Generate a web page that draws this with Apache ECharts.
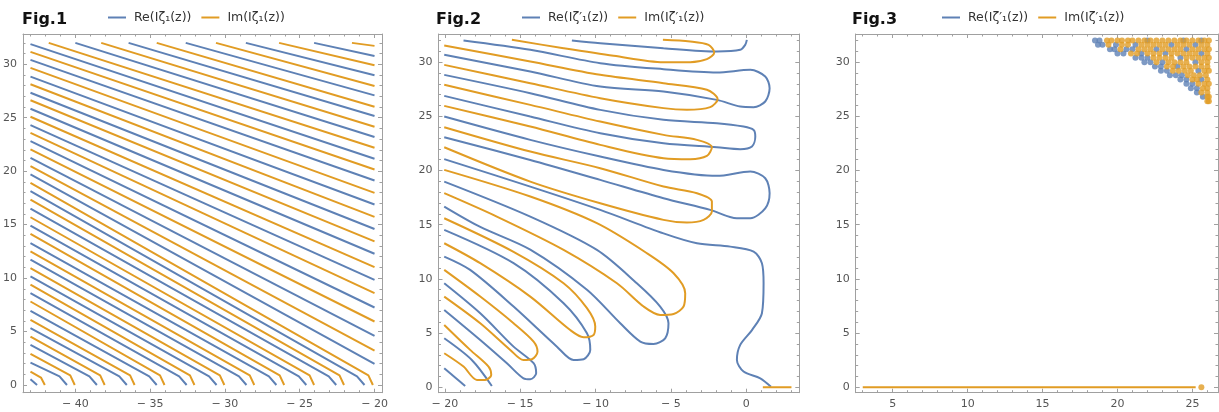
<!DOCTYPE html>
<html>
<head>
<meta charset="utf-8">
<script src="https://cdn.jsdelivr.net/npm/echarts@6/dist/echarts.min.js"></script>
<style>
  html, body { margin: 0; padding: 0; background: #fff; }
  #chart { width: 1219px; height: 412px; }
</style>
</head>
<body>
<div id="chart"></div>
<script>
// legend names
const RE1 = 'Re(Iζ₁(z))';
const IM1 = 'Im(Iζ₁(z))';
const RE2 = 'Re(Iζ′₁(z))';
const IM2 = 'Im(Iζ′₁(z))';

// tick values
const yTicks = [0, 5, 10, 15, 20, 25, 30];
const fig1XTicks = [-40, -35, -30, -25, -20];
const fig2XTicks = [-20, -15, -10, -5, 0];
const fig3XTicks = [5, 10, 15, 20, 25];

// Fig.1 contour lines (x, y)
const fig1Re = [
  [[-24.04, 32], [-20, 30.78]],
  [[-28.6, 32], [-20, 28.97]],
  [[-32.62, 32], [-20, 27.09]],
  [[-36.44, 32], [-20, 25.16]],
  [[-40.0, 32], [-20, 23.19]],
  [[-43, 31.88], [-20, 21.16]],
  [[-43, 30.41], [-20, 19.13]],
  [[-43, 28.84], [-20, 16.88]],
  [[-43, 27.34], [-20, 14.59]],
  [[-43, 25.84], [-20, 12.28]],
  [[-43, 24.31], [-20, 9.84]],
  [[-43, 22.81], [-20, 7.25]],
  [[-43, 21.25], [-20, 4.59]],
  [[-43, 19.69], [-20, 1.97]],
  [[-43, 18.13], [-21.17, 0.8], [-20.67, 0]],
  [[-43, 16.5], [-23.06, 0.8], [-22.56, 0]],
  [[-43, 14.91], [-25.06, 0.8], [-24.56, 0]],
  [[-43, 13.28], [-27.06, 0.8], [-26.56, 0]],
  [[-43, 11.72], [-29.06, 0.8], [-28.56, 0]],
  [[-43, 10.16], [-31.06, 0.8], [-30.56, 0]],
  [[-43, 8.59], [-33.06, 0.8], [-32.56, 0]],
  [[-43, 6.94], [-35.06, 0.8], [-34.56, 0]],
  [[-43, 5.31], [-37.06, 0.8], [-36.56, 0]],
  [[-43, 3.75], [-39.06, 0.8], [-38.56, 0]],
  [[-43, 2.09], [-41.06, 0.8], [-40.56, 0]],
  [[-43, 0.53], [-42.56, 0]]
];
const fig1Im = [
  [[-21.51, 32], [-20, 31.72]],
  [[-26.38, 32], [-20, 29.91]],
  [[-30.6, 32], [-20, 27.97]],
  [[-34.56, 32], [-20, 26.03]],
  [[-38.27, 32], [-20, 24.16]],
  [[-41.78, 32], [-20, 22.19]],
  [[-43, 31.16], [-20, 20.16]],
  [[-43, 29.66], [-20, 17.97]],
  [[-43, 28.13], [-20, 15.72]],
  [[-43, 26.63], [-20, 13.44]],
  [[-43, 25.09], [-20, 11.03]],
  [[-43, 23.59], [-20, 8.59]],
  [[-43, 22.03], [-20, 5.94]],
  [[-43, 20.47], [-20, 3.22]],
  [[-43, 18.91], [-20.41, 0.9], [-20.11, 0]],
  [[-43, 17.34], [-22.34, 0.9], [-22.04, 0]],
  [[-43, 15.69], [-24.34, 0.9], [-24.04, 0]],
  [[-43, 14.13], [-26.34, 0.9], [-26.04, 0]],
  [[-43, 12.5], [-28.34, 0.9], [-28.04, 0]],
  [[-43, 10.94], [-30.34, 0.9], [-30.04, 0]],
  [[-43, 9.38], [-32.34, 0.9], [-32.04, 0]],
  [[-43, 7.81], [-34.34, 0.9], [-34.04, 0]],
  [[-43, 6.09], [-36.34, 0.9], [-36.04, 0]],
  [[-43, 4.53], [-38.34, 0.9], [-38.04, 0]],
  [[-43, 2.91], [-40.34, 0.9], [-40.04, 0]],
  [[-43, 1.25], [-42.3, 0.7], [-42.04, 0]]
];

// Fig.2 contour lines (x, y)
const fig2Re = [
  [[-11.57, 32.0], [-9.69, 31.75], [-5.49, 31.29], [-1.95, 30.99], [-0.4, 31.14], [-0.07, 31.6], [0.04, 32.06]],
  [[-18.76, 32.0], [-14.33, 31.14], [-9.69, 29.91], [-5.49, 29.35], [-1.95, 29.05], [0.27, 29.29], [1.26, 28.68], [1.55, 27.6],
   [1.26, 26.37], [0.49, 25.85], [-0.4, 25.91], [-1.95, 26.52], [-5.49, 27.29], [-9.69, 27.75], [-14.33, 29.14], [-20.04, 30.68]],
  [[-20.04, 28.83], [-14.33, 27.14], [-9.69, 25.6], [-5.49, 24.68], [-1.95, 24.37], [-0.18, 24.06], [0.49, 23.75], [0.6, 23.14],
   [0.38, 22.22], [-0.4, 21.97], [-1.95, 22.15], [-5.49, 22.52], [-9.69, 23.45], [-14.33, 24.98], [-20.04, 26.89]],
  [[-20.04, 24.98], [-14.33, 22.83], [-9.69, 21.29], [-5.49, 20.06], [-1.95, 19.51], [0.27, 19.91], [1.26, 19.29], [1.55, 17.91],
   [1.26, 16.51], [0.27, 15.6], [-0.62, 15.6], [-2.39, 16.37], [-5.49, 17.45], [-9.69, 19.14], [-14.33, 20.98], [-20.04, 23.08]],
  [[-20.04, 21.05], [-14.33, 18.52], [-9.69, 16.37], [-5.49, 14.2], [-3.27, 13.29], [-1.06, 12.98], [0.49, 12.52], [1.04, 11.45],
   [1.15, 9.6], [1.04, 6.83], [0.38, 5.28], [-0.4, 3.91], [-0.62, 2.52], [-0.18, 1.45], [0.93, 0.83], [1.64, 0.05]],
  [[-20.04, 18.98], [-14.33, 15.75], [-9.91, 12.68], [-7.26, 9.6], [-5.71, 7.45], [-5.16, 5.91], [-5.38, 4.52], [-6.15, 4.0],
   [-7.03, 4.22], [-8.36, 5.91], [-10.57, 9.0], [-14.33, 12.7], [-17.65, 14.8], [-20.04, 16.68]],
  [[-20.04, 14.52], [-15.44, 11.45], [-12.12, 7.75], [-10.57, 4.98], [-10.35, 3.45], [-10.79, 2.59], [-11.46, 2.52],
   [-12.56, 3.75], [-15.44, 7.45], [-18.32, 10.83], [-20.04, 12.06]],
  [[-20.04, 9.6], [-17.65, 6.83], [-15.44, 3.75], [-14.11, 2.22], [-13.94, 1.29], [-14.33, 0.74], [-14.78, 0.83],
   [-15.88, 2.22], [-17.65, 4.37], [-20.04, 7.14]],
  [[-20.04, 4.52], [-18.21, 2.52], [-16.88, 0.12]],
  [[-20.04, 1.75], [-18.65, 0.12]]
];
const fig2Im = [
  [[-15.55, 32.06], [-12.12, 31.29], [-8.8, 30.59], [-5.49, 30.0], [-3.72, 30.0], [-2.61, 30.28], [-2.12, 30.89], [-2.5, 31.6],
   [-3.72, 31.91], [-5.53, 32.06]],
  [[-20.04, 31.54], [-14.33, 30.06], [-9.69, 28.83], [-5.49, 28.06], [-2.61, 27.45], [-1.9, 26.58], [-2.39, 25.85], [-3.94, 25.6],
   [-5.49, 25.76], [-9.69, 26.68], [-14.33, 28.06], [-20.04, 29.75]],
  [[-20.04, 27.91], [-14.33, 26.06], [-9.69, 24.52], [-5.49, 23.29], [-3.27, 22.83], [-2.28, 22.15], [-2.61, 21.35], [-3.72, 21.05],
   [-5.49, 21.14], [-9.69, 22.37], [-14.33, 24.06], [-20.04, 25.97]],
  [[-20.04, 24.0], [-14.33, 21.75], [-9.69, 20.22], [-5.49, 18.52], [-3.27, 17.91], [-2.28, 17.14], [-2.28, 16.22], [-2.83, 15.45],
   [-3.94, 15.2], [-5.49, 15.45], [-9.69, 16.98], [-14.33, 18.98], [-20.04, 22.15]],
  [[-20.04, 20.06], [-14.33, 17.6], [-9.91, 15.14], [-6.59, 12.37], [-4.82, 10.52], [-4.05, 8.68], [-4.16, 7.45], [-4.82, 6.77],
   [-5.71, 6.68], [-6.81, 7.45], [-8.58, 9.6], [-12.12, 12.68], [-16.55, 15.75], [-20.04, 17.91]],
  [[-20.04, 15.6], [-15.44, 12.5], [-12.12, 9.6], [-10.57, 7.3], [-10.02, 5.6], [-10.13, 4.83], [-10.79, 4.62],
   [-11.68, 5.28], [-14.33, 8.37], [-17.65, 11.45], [-20.04, 13.29]],
  [[-20.04, 10.83], [-17.65, 8.37], [-15.44, 5.91], [-14.11, 4.22], [-13.85, 3.29], [-14.22, 2.59], [-14.78, 2.52],
   [-15.66, 3.45], [-17.65, 5.91], [-20.04, 8.37]],
  [[-20.04, 5.75], [-18.32, 3.45], [-17.1, 1.91], [-16.92, 1.14], [-17.32, 0.68], [-17.87, 0.68], [-18.76, 1.91], [-20.04, 3.14]],
  [[1.1, 0], [3.0, 0]]
];

// Fig.3
const fig3ImLine = [[[3.0, 0], [25.22, 0]]];
const fig3ReDots = [
  [18.5, 32.0], [18.8, 32.0], [22.0, 32.0], [24.4, 32.0], [25.6, 32.0],
  [18.7, 31.6], [19.0, 31.6], [19.9, 31.6], [21.2, 31.6], [23.6, 31.6], [25.2, 31.6],
  [19.5, 31.2], [19.8, 31.2], [20.6, 31.2], [21.0, 31.2], [22.6, 31.2], [24.6, 31.2],
  [20.0, 30.8], [20.4, 30.8], [21.6, 30.8], [23.2, 30.8], [25.6, 30.8],
  [21.2, 30.4], [21.6, 30.4], [22.0, 30.4], [24.2, 30.4],
  [21.8, 30.0], [22.2, 30.0], [23.0, 30.0], [25.2, 30.0],
  [22.5, 29.6], [22.9, 29.6], [24.0, 29.6],
  [22.9, 29.2], [23.3, 29.2], [25.4, 29.2],
  [23.5, 28.8], [23.9, 28.8], [24.3, 28.8],
  [24.2, 28.4], [24.6, 28.4], [25.6, 28.4],
  [24.6, 28.0], [25.0, 28.0],
  [24.9, 27.6], [25.3, 27.6],
  [25.3, 27.2], [25.7, 26.8]
];
const fig3ImDots = [
  [19.3, 32.0], [19.6, 32.0], [20.0, 32.0], [20.3, 32.0], [20.7, 32.0], [21.0, 32.0], [21.4, 32.0], [21.8, 32.0],
  [22.2, 32.0], [22.6, 32.0], [23.0, 32.0], [23.4, 32.0], [23.8, 32.0], [24.2, 32.0], [24.6, 32.0], [25.0, 32.0],
  [25.4, 32.0], [25.8, 32.0], [26.1, 32.0],
  [19.4, 31.6], [20.3, 31.6], [20.7, 31.6], [21.6, 31.6], [22.0, 31.6], [22.4, 31.6], [22.8, 31.6], [23.2, 31.6],
  [24.0, 31.6], [24.4, 31.6], [24.8, 31.6], [25.6, 31.6], [26.0, 31.6],
  [20.2, 31.2], [21.4, 31.2], [21.8, 31.2], [22.2, 31.2], [23.0, 31.2], [23.4, 31.2], [23.8, 31.2], [24.2, 31.2],
  [25.0, 31.2], [25.4, 31.2], [25.8, 31.2], [26.1, 31.2],
  [20.9, 30.8], [21.3, 30.8], [22.0, 30.8], [22.4, 30.8], [22.8, 30.8], [23.6, 30.8], [24.0, 30.8], [24.4, 30.8],
  [24.8, 30.8], [25.2, 30.8], [26.0, 30.8],
  [22.4, 30.4], [22.8, 30.4], [23.2, 30.4], [23.6, 30.4], [24.6, 30.4], [25.0, 30.4], [25.4, 30.4], [25.8, 30.4], [26.1, 30.4],
  [22.6, 30.0], [23.4, 30.0], [23.8, 30.0], [24.2, 30.0], [24.6, 30.0], [25.6, 30.0], [26.0, 30.0],
  [23.3, 29.6], [23.7, 29.6], [24.4, 29.6], [24.8, 29.6], [25.2, 29.6], [25.6, 29.6], [26.0, 29.6],
  [23.7, 29.2], [24.1, 29.2], [24.5, 29.2], [24.9, 29.2], [25.8, 29.2], [26.1, 29.2],
  [24.7, 28.8], [25.1, 28.8], [25.5, 28.8], [25.9, 28.8],
  [25.0, 28.4], [25.3, 28.4], [26.0, 28.4],
  [25.4, 28.0], [25.8, 28.0], [26.1, 28.0],
  [25.7, 27.6], [26.0, 27.6],
  [25.6, 27.2], [26.0, 27.2],
  [26.0, 26.8], [26.1, 26.8],
  [26.0, 26.4], [26.1, 26.4],
  [25.6, 0]
];

const BLUE = '#5e81b5';
const ORANGE = '#e19c24';
const FRAME = '#a0a0a0';
const LABEL = '#555';
const FONT = 'DejaVu Sans';

const grids = [
  { left: 22, top: 34, width: 360, height: 358.7, x: [-43.5, -19.5], y: [-0.72, 32.83], xt: fig1XTicks },
  { left: 438.5, top: 34, width: 360.8, height: 358.7, x: [-20.42, 3.52], y: [-0.5, 32.6], xt: fig2XTicks },
  { left: 855.7, top: 34, width: 362.3, height: 358.7, x: [2.53, 26.71], y: [-0.5, 32.6], xt: fig3XTicks }
];

function intsBetween(a, b) {
  const out = [];
  for (let v = Math.ceil(a); v <= Math.floor(b); v++) out.push(v);
  return out;
}
const fmt = (v) => (v < 0 ? '\u2212 ' + Math.abs(v) : String(v));

const xAxes = [];
const yAxes = [];
grids.forEach((g, gi) => {
  const minorX = intsBetween(g.x[0], g.x[1]).filter((v) => v % 5 !== 0);
  const minorY = intsBetween(g.y[0], g.y[1]).filter((v) => v % 5 !== 0);
  ['bottom', 'top'].forEach((pos) => {
    xAxes.push({
      type: 'value', gridIndex: gi, position: pos, min: g.x[0], max: g.x[1],
      axisLine: { show: true, onZero: false, lineStyle: { color: FRAME, width: 1 } },
      axisTick: { show: true, inside: true, length: 4, customValues: g.xt, lineStyle: { color: FRAME } },
      axisLabel: { show: pos === 'bottom', customValues: g.xt, formatter: fmt, color: LABEL, fontSize: 11, fontFamily: FONT, margin: 6 },
      splitLine: { show: false }
    });
    xAxes.push({
      type: 'value', gridIndex: gi, position: pos, min: g.x[0], max: g.x[1],
      axisLine: { show: false, onZero: false },
      axisTick: { show: true, inside: true, length: 2.5, customValues: minorX, lineStyle: { color: FRAME } },
      axisLabel: { show: false },
      splitLine: { show: false }
    });
  });
  ['left', 'right'].forEach((pos) => {
    yAxes.push({
      type: 'value', gridIndex: gi, position: pos, min: g.y[0], max: g.y[1],
      axisLine: { show: true, onZero: false, lineStyle: { color: FRAME, width: 1 } },
      axisTick: { show: true, inside: true, length: 4, customValues: yTicks, lineStyle: { color: FRAME } },
      axisLabel: { show: pos === 'left', customValues: yTicks, color: LABEL, fontSize: 11, fontFamily: FONT, margin: 6 },
      splitLine: { show: false }
    });
    yAxes.push({
      type: 'value', gridIndex: gi, position: pos, min: g.y[0], max: g.y[1],
      axisLine: { show: false, onZero: false },
      axisTick: { show: true, inside: true, length: 2.5, customValues: minorY, lineStyle: { color: FRAME } },
      axisLabel: { show: false },
      splitLine: { show: false }
    });
  });
});

function curveSeries(curves, name, color, gi, smooth, z) {
  return curves.map((pts) => ({
    type: 'line', name, data: pts, xAxisIndex: gi * 4, yAxisIndex: gi * 4,
    symbol: 'none', smooth, silent: true, z,
    lineStyle: { color, width: 2 }, itemStyle: { color }
  }));
}
function dotSeries(pts, name, color, gi, z) {
  return {
    type: 'scatter', name, data: pts, xAxisIndex: gi * 4, yAxisIndex: gi * 4,
    symbol: 'circle', symbolSize: 6, silent: true, z, itemStyle: { color }
  };
}

const series = [].concat(
  curveSeries(fig1Re, RE1, BLUE, 0, false, 2),
  curveSeries(fig1Im, IM1, ORANGE, 0, false, 3),
  curveSeries(fig2Re, RE2, BLUE, 1, 0.3, 2),
  curveSeries(fig2Im, IM2, ORANGE, 1, 0.3, 3),
  [dotSeries(fig3ReDots, RE2, BLUE, 2, 2), dotSeries(fig3ImDots, IM2, ORANGE, 2, 3)],
  curveSeries(fig3ImLine, IM2, ORANGE, 2, false, 3)
);

const legendText = { color: '#333', fontSize: 12.5, fontFamily: FONT, padding: [0, 0, 0, 3] };
const legendBase = { top: 6, itemWidth: 18, itemHeight: 2, itemGap: 10, icon: 'rect', textStyle: legendText, selectedMode: false };
const titleText = { fontSize: 16, fontWeight: 'bold', fontFamily: FONT, color: '#111' };

const chart = echarts.init(document.getElementById('chart'));
chart.setOption({
  animation: false,
  backgroundColor: '#fff',
  title: [
    { text: 'Fig.1', left: 17, top: 7, textStyle: titleText },
    { text: 'Fig.2', left: 431, top: 7, textStyle: titleText },
    { text: 'Fig.3', left: 847, top: 7, textStyle: titleText }
  ],
  legend: [
    Object.assign({ left: 103, data: [RE1, IM1] }, legendBase),
    Object.assign({ left: 517, data: [RE2, IM2] }, legendBase),
    Object.assign({ left: 937, data: [RE2, IM2] }, legendBase)
  ],
  grid: grids.map((g) => ({ left: g.left, top: g.top, width: g.width, height: g.height })),
  xAxis: xAxes,
  yAxis: yAxes,
  series
});
</script>
</body>
</html>
